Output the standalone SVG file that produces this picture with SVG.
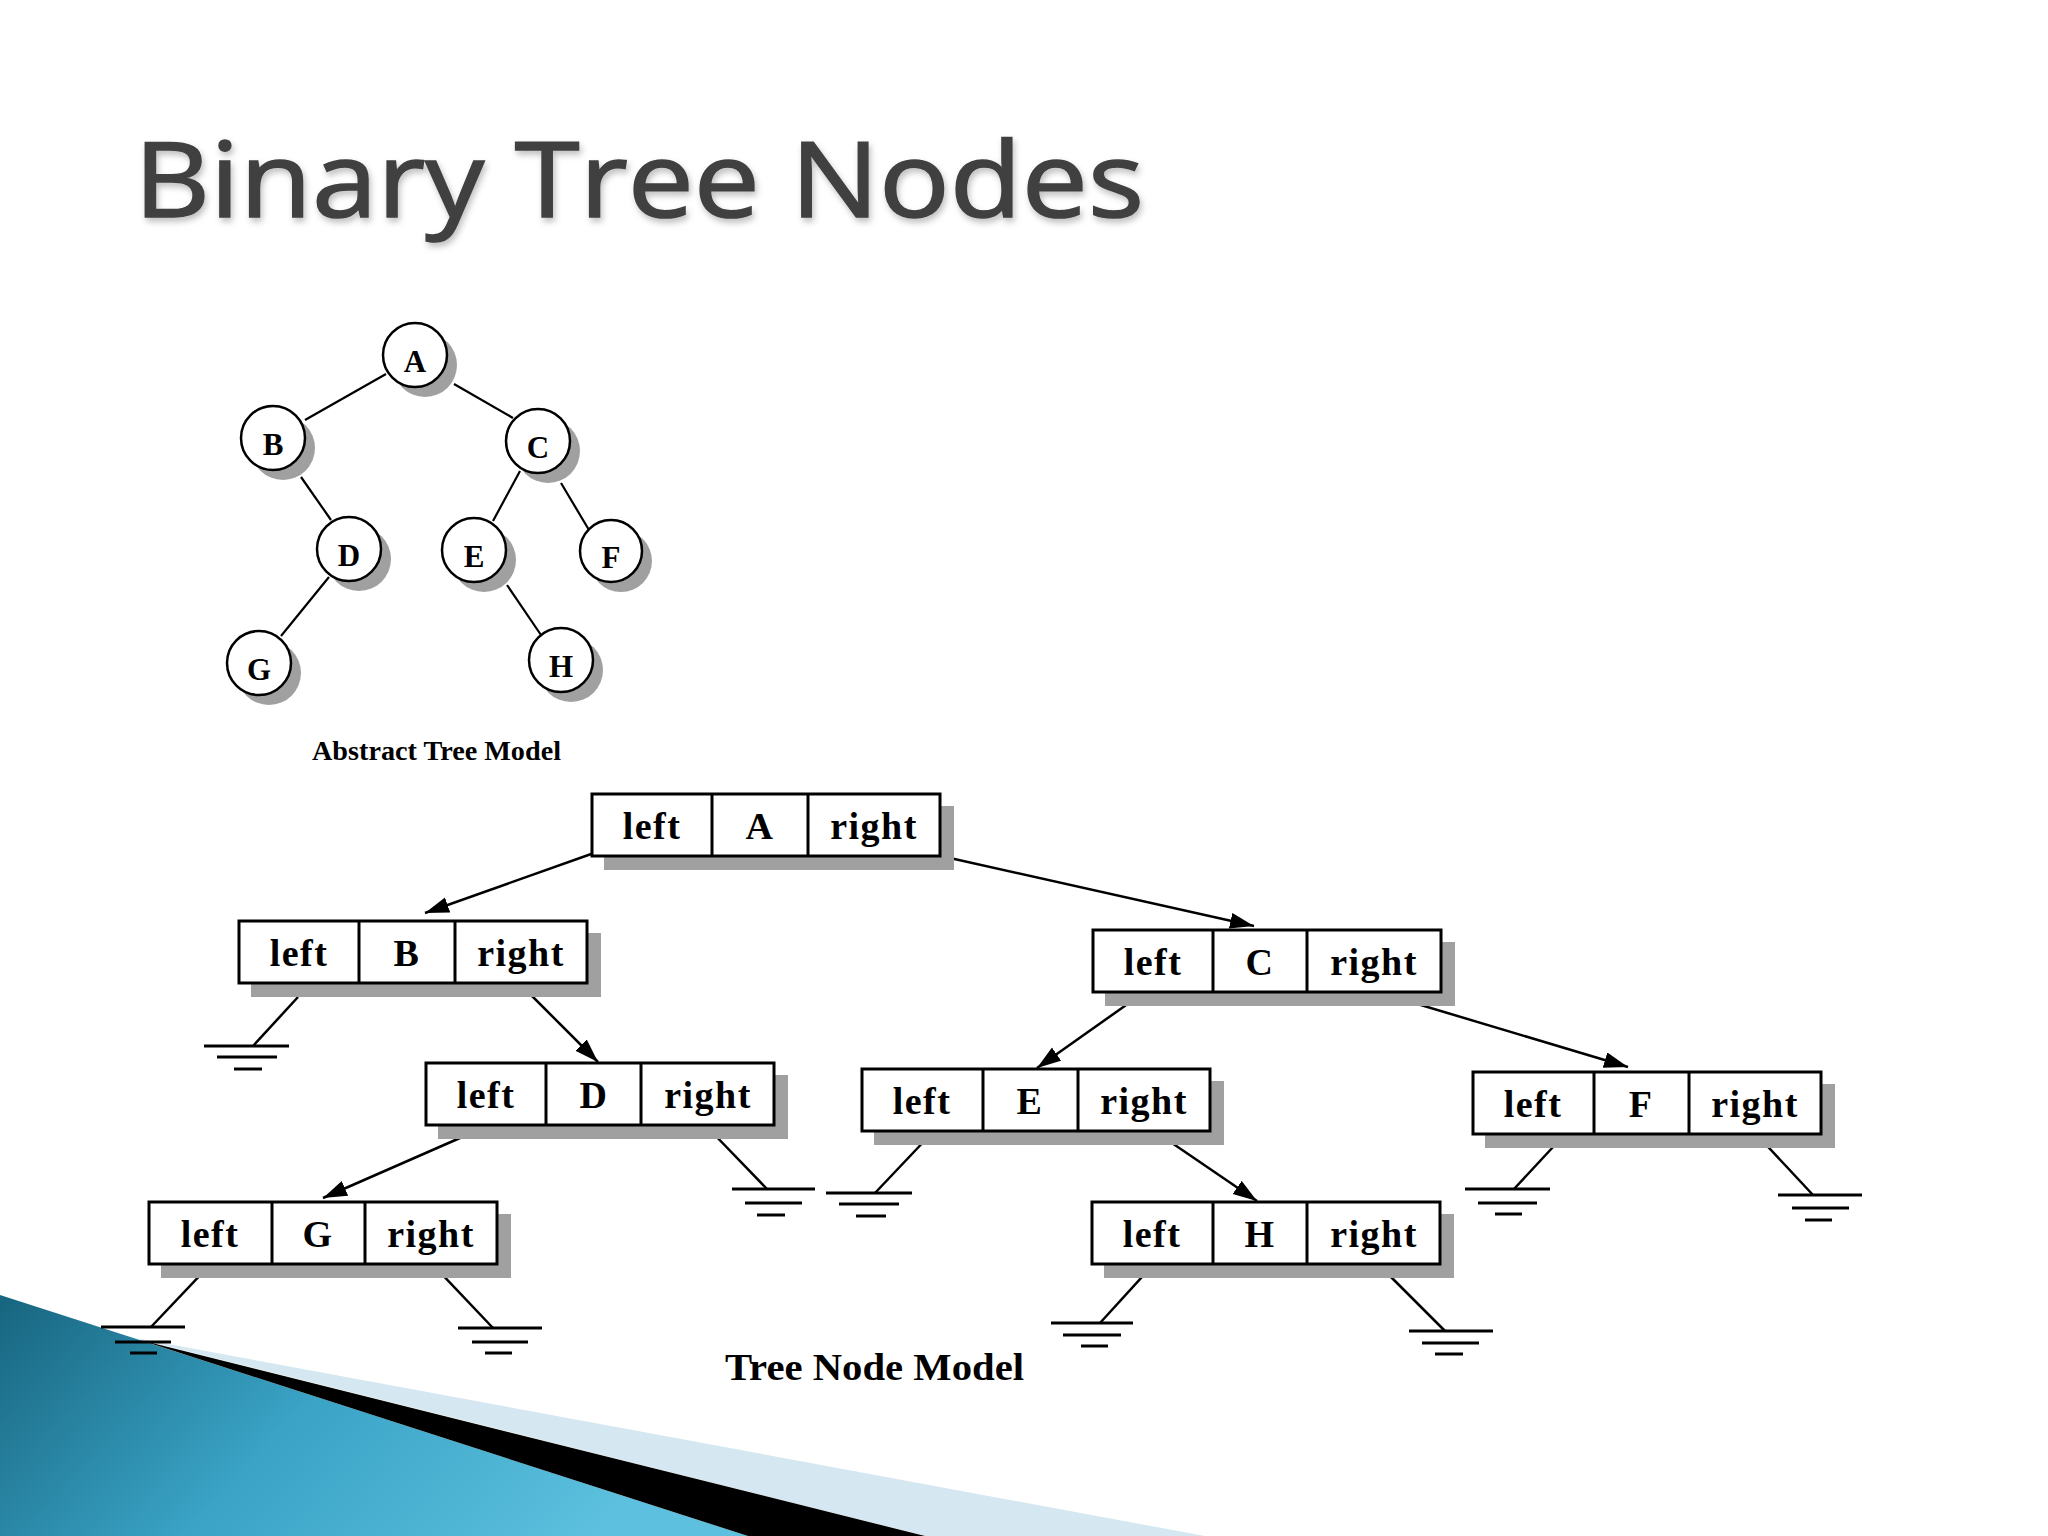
<svg xmlns="http://www.w3.org/2000/svg" width="2048" height="1536" viewBox="0 0 2048 1536">
<style>
.title{font-family:"Open Sans","Noto Sans",sans-serif;font-size:104px;fill:#404040;stroke:#404040;stroke-width:1.6}
.box{fill:#fff;stroke:#000;stroke-width:3}
.shadow{fill:#a0a0a0}
.div{stroke:#000;stroke-width:3}
.nt{font-family:"Liberation Serif","Times New Roman",serif;font-weight:bold;font-size:38px;text-anchor:middle;fill:#000;letter-spacing:1.5px}
.circ{fill:#fff;stroke:#000;stroke-width:2.5}
.ct{font-family:"Liberation Serif","Times New Roman",serif;font-weight:bold;font-size:31px;text-anchor:middle;fill:#000}
.edge{stroke:#000;stroke-width:2.2;fill:none}
.conn{stroke:#000;stroke-width:2.5;fill:none}
.gnd{stroke:#000;stroke-width:3}
.cap{font-family:"Liberation Serif","Times New Roman",serif;fill:#000}
</style>
<defs>
<marker id="arr" markerUnits="userSpaceOnUse" markerWidth="26" markerHeight="18" refX="24" refY="8" orient="auto">
<path d="M0,0 L24,8 L0,16 z" fill="#000"/>
</marker>
<linearGradient id="blue" x1="0" y1="0" x2="1" y2="0.3">
<stop offset="0" stop-color="#17657f"/>
<stop offset="0.5" stop-color="#3aa3c6"/>
<stop offset="1" stop-color="#5cc0de"/>
</linearGradient>
<filter id="tsh" x="-5%" y="-20%" width="110%" height="150%">
<feDropShadow dx="2" dy="4" stdDeviation="3" flood-color="#000" flood-opacity="0.25"/>
</filter>
</defs>
<rect width="2048" height="1536" fill="#fff"/>

<g id="decoration">
<polygon points="130,1337 925,1536 1205,1536" fill="#d5e8f1"/>
<polygon points="0,1295 0,1536 748,1536" fill="url(#blue)"/>
<polygon points="140,1340 748,1536 925,1536" fill="#000"/>
</g>

<text id="title" class="title" x="134" y="217" textLength="1010" lengthAdjust="spacingAndGlyphs" filter="url(#tsh)">Binary Tree Nodes</text>

<g id="abstract-edges">
<line class="edge" x1="386" y1="374" x2="305" y2="420"/>
<line class="edge" x1="454" y1="384" x2="513" y2="418"/>
<line class="edge" x1="301" y1="477" x2="331" y2="520"/>
<line class="edge" x1="520" y1="471" x2="493" y2="521"/>
<line class="edge" x1="561" y1="483" x2="589" y2="530"/>
<line class="edge" x1="329" y1="577" x2="281" y2="636"/>
<line class="edge" x1="507" y1="585" x2="541" y2="635"/>
</g>
<g id="abstract-A"><circle class="shadow" cx="425" cy="365" r="32"/><circle class="circ" cx="415" cy="355" r="32"/><text class="ct" x="415" y="372">A</text></g>
<g id="abstract-B"><circle class="shadow" cx="283" cy="448" r="32"/><circle class="circ" cx="273" cy="438" r="32"/><text class="ct" x="273" y="455">B</text></g>
<g id="abstract-C"><circle class="shadow" cx="548" cy="451" r="32"/><circle class="circ" cx="538" cy="441" r="32"/><text class="ct" x="538" y="458">C</text></g>
<g id="abstract-D"><circle class="shadow" cx="359" cy="559" r="32"/><circle class="circ" cx="349" cy="549" r="32"/><text class="ct" x="349" y="566">D</text></g>
<g id="abstract-E"><circle class="shadow" cx="484" cy="560" r="32"/><circle class="circ" cx="474" cy="550" r="32"/><text class="ct" x="474" y="567">E</text></g>
<g id="abstract-F"><circle class="shadow" cx="621" cy="561" r="31"/><circle class="circ" cx="611" cy="551" r="31"/><text class="ct" x="611" y="568">F</text></g>
<g id="abstract-G"><circle class="shadow" cx="269" cy="673" r="32"/><circle class="circ" cx="259" cy="663" r="32"/><text class="ct" x="259" y="680">G</text></g>
<g id="abstract-H"><circle class="shadow" cx="571" cy="670" r="32"/><circle class="circ" cx="561" cy="660" r="32"/><text class="ct" x="561" y="677">H</text></g>
<text id="abstract-caption" class="cap" x="312" y="760" font-size="27" font-weight="bold" textLength="249" lengthAdjust="spacingAndGlyphs">Abstract Tree Model</text>

<g id="connectors">
<line class="conn" x1="594" y1="853" x2="425" y2="913" marker-end="url(#arr)"/>
<line class="conn" x1="941" y1="856" x2="1254" y2="926" marker-end="url(#arr)"/>
<line class="conn" x1="520" y1="984" x2="598" y2="1062" marker-end="url(#arr)"/>
<line class="conn" x1="485" y1="1127" x2="323" y2="1198" marker-end="url(#arr)"/>
<line class="conn" x1="1129" y1="1003" x2="1037" y2="1068" marker-end="url(#arr)"/>
<line class="conn" x1="1384" y1="994" x2="1628" y2="1067" marker-end="url(#arr)"/>
<line class="conn" x1="1150" y1="1128" x2="1257" y2="1201" marker-end="url(#arr)"/>
</g>

<g id="grounds">
<g id="ground-B-left"><line class="conn" x1="298" y1="997" x2="253" y2="1046"/><line class="gnd" x1="204" y1="1046" x2="289" y2="1046"/><line class="gnd" x1="217" y1="1057" x2="277" y2="1057"/><line class="gnd" x1="234" y1="1069" x2="262" y2="1069"/></g>
<g id="ground-D-right"><line class="conn" x1="710" y1="1130" x2="767" y2="1189"/><line class="gnd" x1="732" y1="1189" x2="815" y2="1189"/><line class="gnd" x1="745" y1="1203" x2="802" y2="1203"/><line class="gnd" x1="757" y1="1215" x2="785" y2="1215"/></g>
<g id="ground-G-left"><line class="conn" x1="206" y1="1269" x2="151" y2="1327"/><line class="gnd" x1="101" y1="1327" x2="185" y2="1327"/><line class="gnd" x1="115" y1="1342" x2="171" y2="1342"/><line class="gnd" x1="130" y1="1353" x2="157" y2="1353"/></g>
<g id="ground-G-right"><line class="conn" x1="437" y1="1269" x2="493" y2="1328"/><line class="gnd" x1="458" y1="1328" x2="542" y2="1328"/><line class="gnd" x1="472" y1="1342" x2="528" y2="1342"/><line class="gnd" x1="485" y1="1353" x2="512" y2="1353"/></g>
<g id="ground-E-left"><line class="conn" x1="930" y1="1135" x2="875" y2="1193"/><line class="gnd" x1="826" y1="1193" x2="912" y2="1193"/><line class="gnd" x1="839" y1="1204" x2="899" y2="1204"/><line class="gnd" x1="856" y1="1216" x2="886" y2="1216"/></g>
<g id="ground-H-left"><line class="conn" x1="1152" y1="1266" x2="1100" y2="1323"/><line class="gnd" x1="1051" y1="1323" x2="1133" y2="1323"/><line class="gnd" x1="1063" y1="1335" x2="1121" y2="1335"/><line class="gnd" x1="1081" y1="1346" x2="1108" y2="1346"/></g>
<g id="ground-H-right"><line class="conn" x1="1387" y1="1273" x2="1445" y2="1331"/><line class="gnd" x1="1409" y1="1331" x2="1493" y2="1331"/><line class="gnd" x1="1422" y1="1343" x2="1479" y2="1343"/><line class="gnd" x1="1435" y1="1354" x2="1463" y2="1354"/></g>
<g id="ground-F-left"><line class="conn" x1="1567" y1="1132" x2="1514" y2="1189"/><line class="gnd" x1="1465" y1="1189" x2="1550" y2="1189"/><line class="gnd" x1="1478" y1="1203" x2="1537" y2="1203"/><line class="gnd" x1="1495" y1="1214" x2="1522" y2="1214"/></g>
<g id="ground-F-right"><line class="conn" x1="1757" y1="1135" x2="1813" y2="1195"/><line class="gnd" x1="1778" y1="1195" x2="1862" y2="1195"/><line class="gnd" x1="1792" y1="1208" x2="1849" y2="1208"/><line class="gnd" x1="1805" y1="1220" x2="1832" y2="1220"/></g>
</g>

<g id="node-A" transform="translate(592,794)"><rect class="shadow" x="12" y="12" width="350" height="64"/><rect class="box" width="348" height="62"/><line class="div" x1="120" y1="0" x2="120" y2="62"/><line class="div" x1="216" y1="0" x2="216" y2="62"/><text class="nt" x="60" y="45">left</text><text class="nt" x="168" y="45">A</text><text class="nt" x="282" y="45">right</text></g>
<g id="node-B" transform="translate(239,921)"><rect class="shadow" x="12" y="12" width="350" height="64"/><rect class="box" width="348" height="62"/><line class="div" x1="120" y1="0" x2="120" y2="62"/><line class="div" x1="216" y1="0" x2="216" y2="62"/><text class="nt" x="60" y="45">left</text><text class="nt" x="168" y="45">B</text><text class="nt" x="282" y="45">right</text></g>
<g id="node-C" transform="translate(1093,930)"><rect class="shadow" x="12" y="12" width="350" height="64"/><rect class="box" width="348" height="62"/><line class="div" x1="120" y1="0" x2="120" y2="62"/><line class="div" x1="214" y1="0" x2="214" y2="62"/><text class="nt" x="60" y="45">left</text><text class="nt" x="167" y="45">C</text><text class="nt" x="281" y="45">right</text></g>
<g id="node-D" transform="translate(426,1063)"><rect class="shadow" x="12" y="12" width="350" height="64"/><rect class="box" width="348" height="62"/><line class="div" x1="120" y1="0" x2="120" y2="62"/><line class="div" x1="215" y1="0" x2="215" y2="62"/><text class="nt" x="60" y="45">left</text><text class="nt" x="168" y="45">D</text><text class="nt" x="282" y="45">right</text></g>
<g id="node-E" transform="translate(862,1069)"><rect class="shadow" x="12" y="12" width="350" height="64"/><rect class="box" width="348" height="62"/><line class="div" x1="121" y1="0" x2="121" y2="62"/><line class="div" x1="216" y1="0" x2="216" y2="62"/><text class="nt" x="60" y="45">left</text><text class="nt" x="168" y="45">E</text><text class="nt" x="282" y="45">right</text></g>
<g id="node-F" transform="translate(1473,1072)"><rect class="shadow" x="12" y="12" width="350" height="64"/><rect class="box" width="348" height="62"/><line class="div" x1="121" y1="0" x2="121" y2="62"/><line class="div" x1="216" y1="0" x2="216" y2="62"/><text class="nt" x="60" y="45">left</text><text class="nt" x="168" y="45">F</text><text class="nt" x="282" y="45">right</text></g>
<g id="node-G" transform="translate(149,1202)"><rect class="shadow" x="12" y="12" width="350" height="64"/><rect class="box" width="348" height="62"/><line class="div" x1="123" y1="0" x2="123" y2="62"/><line class="div" x1="216" y1="0" x2="216" y2="62"/><text class="nt" x="61" y="45">left</text><text class="nt" x="169" y="45">G</text><text class="nt" x="282" y="45">right</text></g>
<g id="node-H" transform="translate(1092,1202)"><rect class="shadow" x="12" y="12" width="350" height="64"/><rect class="box" width="348" height="62"/><line class="div" x1="121" y1="0" x2="121" y2="62"/><line class="div" x1="215" y1="0" x2="215" y2="62"/><text class="nt" x="60" y="45">left</text><text class="nt" x="168" y="45">H</text><text class="nt" x="282" y="45">right</text></g>

<text id="node-caption" class="cap" x="725" y="1380" font-size="38" font-weight="bold" textLength="299" lengthAdjust="spacingAndGlyphs">Tree Node Model</text>
</svg>
